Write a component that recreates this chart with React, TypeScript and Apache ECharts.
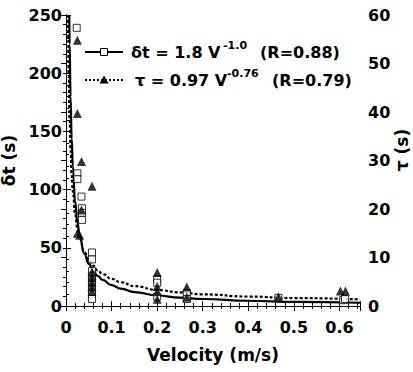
import React, { useEffect, useRef } from "react";
import * as echarts from "echarts";

// Measured data: delta t (s) versus velocity (m/s)
const sqV = [0.0235, 0.025, 0.025, 0.034, 0.035, 0.035, 0.035, 0.057, 0.057, 0.057, 0.057, 0.057, 0.057, 0.057, 0.057, 0.057, 0.2, 0.2, 0.2, 0.265, 0.265, 0.466, 0.608, 0.612];
const sqDt = [239, 114, 109, 94, 84, 80, 74, 46, 40, 30, 26, 22, 18, 14, 10, 6, 23, 20, 8, 11, 6, 7, 5, 6];

// Measured data: tau (s) versus velocity (m/s)
const triV = [0.025, 0.025, 0.034, 0.057, 0.034, 0.025, 0.03, 0.057, 0.057, 0.057, 0.057, 0.057, 0.2, 0.2, 0.2, 0.2, 0.265, 0.265, 0.466, 0.602, 0.613];
const triTau = [54.8, 39.7, 29.8, 24.7, 19.8, 15, 14.6, 7, 6, 5, 4, 3, 6.9, 4, 3, 1.4, 3.9, 1.8, 1.9, 3.1, 3.1];

// Fit curve: delta t
const fitDtV = [0.0072, 0.008, 0.01, 0.0125, 0.015, 0.02, 0.025, 0.03, 0.04, 0.05, 0.06, 0.07, 0.08, 0.1, 0.12, 0.15, 0.2, 0.25, 0.3, 0.4, 0.5, 0.645];
const fitDt = [250, 225, 180, 144, 120, 90, 72, 60, 45, 36, 30, 25.7, 22.5, 18, 15, 12, 9, 7.2, 6, 4.5, 3.6, 2.8];

// Fit curve: tau
const fitTauV = [0.0045, 0.005, 0.006, 0.008, 0.01, 0.0125, 0.015, 0.02, 0.025, 0.03, 0.04, 0.05, 0.06, 0.07, 0.08, 0.1, 0.12, 0.15, 0.2, 0.25, 0.3, 0.4, 0.5, 0.645];
const fitTau = [60, 55, 47.4, 38, 32.1, 27, 23.6, 19, 16, 13.9, 11.2, 9.5, 8.3, 7.3, 6.6, 5.6, 4.9, 4.1, 3.3, 2.8, 2.4, 1.95, 1.64, 1.35];

const leftTicks = [0, 50, 100, 150, 200, 250];
const rightTicks = [0, 10, 20, 30, 40, 50, 60];

const FONT = "DejaVu Sans";

export default function App() {
  const ref = useRef<HTMLDivElement>(null);
  useEffect(() => {
    if (!ref.current) return;
    const chart = echarts.init(ref.current, null, { renderer: "svg" });
    const zip = (a: number[], b: number[]) => a.map((v, i) => [v, b[i]]);
    const labelStyle = { color: "#000", fontFamily: FONT, fontWeight: "bold" as const, fontSize: 16 };
    const nameStyle = { color: "#000", fontFamily: FONT, fontWeight: "bold" as const, fontSize: 17 };
    const tickStyle = {
      axisLine: { show: true, lineStyle: { color: "#000", width: 1 } },
      axisTick: { show: true, inside: true, length: 5, lineStyle: { color: "#000" } },
      minorTick: { show: true, splitNumber: 5, length: 3, lineStyle: { color: "#000" } },
      splitLine: { show: false },
      minorSplitLine: { show: false },
    };
    chart.setOption({
      animation: false,
      backgroundColor: "#fff",
      grid: { left: 66, right: 53, top: 15, bottom: 66, containLabel: false, outerBoundsMode: "none" },
      xAxis: [
        {
          type: "value",
          min: 0,
          max: 0.645,
          interval: 0.1,
          position: "bottom",
          ...tickStyle,
          axisLabel: { ...labelStyle, margin: 13, formatter: (v: number) => (v === 0 ? "0" : v.toFixed(1)) },
          name: "Velocity (m/s)",
          nameLocation: "middle",
          nameGap: 40,
          nameTextStyle: nameStyle,
        },
        {
          type: "value",
          min: 0,
          max: 0.645,
          interval: 0.1,
          position: "top",
          ...tickStyle,
          axisLabel: { show: false },
        },
      ],
      yAxis: [
        {
          type: "value",
          min: leftTicks[0],
          max: leftTicks[leftTicks.length - 1],
          interval: 50,
          position: "left",
          ...tickStyle,
          axisLabel: { ...labelStyle, margin: 4 },
          name: "δt (s)",
          nameLocation: "middle",
          nameRotate: 90,
          nameGap: 37,
          nameTextStyle: nameStyle,
        },
        {
          type: "value",
          min: rightTicks[0],
          max: rightTicks[rightTicks.length - 1],
          interval: 10,
          position: "right",
          ...tickStyle,
          axisLabel: { ...labelStyle, margin: 8 },
        },
      ],
      series: [
        {
          type: "line",
          xAxisIndex: 0,
          yAxisIndex: 0,
          data: zip(fitDtV, fitDt),
          showSymbol: false,
          smooth: true,
          smoothMonotone: "x",
          lineStyle: { color: "#000", width: 2.2 },
          z: 3,
        },
        {
          type: "line",
          xAxisIndex: 0,
          yAxisIndex: 1,
          data: zip(fitTauV, fitTau),
          showSymbol: false,
          smooth: true,
          smoothMonotone: "x",
          lineStyle: { color: "#000", width: 2.2, type: [3, 2] },
          z: 3,
        },
        {
          type: "scatter",
          xAxisIndex: 0,
          yAxisIndex: 0,
          data: zip(sqV, sqDt),
          symbol: "rect",
          symbolSize: 7,
          itemStyle: { color: "#fff", borderColor: "#000", borderWidth: 1 },
          z: 4,
        },
        {
          type: "scatter",
          xAxisIndex: 0,
          yAxisIndex: 1,
          data: zip(triV, triTau),
          symbol: "triangle",
          symbolSize: 9,
          itemStyle: { color: "#000" },
          z: 5,
        },
      ],
      graphic: [
        { type: "line", shape: { x1: 85, y1: 52, x2: 123, y2: 52 }, style: { stroke: "#000", lineWidth: 2 } },
        { type: "rect", shape: { x: 100.5, y: 48.5, width: 7, height: 7 }, style: { fill: "#fff", stroke: "#000", lineWidth: 1 } },
        { type: "line", shape: { x1: 85, y1: 80, x2: 123, y2: 80 }, style: { stroke: "#000", lineWidth: 2, lineDash: [2, 2] } },
        { type: "polygon", shape: { points: [[99.5, 83.5], [108.5, 83.5], [104, 75.5]] }, style: { fill: "#000" } },
        { type: "text", x: 131, y: 52, style: { text: "δt = 1.8 V", fill: "#000", font: `bold 16px "${FONT}"`, verticalAlign: "middle" } },
        { type: "text", x: 223, y: 45, style: { text: "-1.0", fill: "#000", font: `bold 11px "${FONT}"`, verticalAlign: "middle" } },
        { type: "text", x: 260, y: 52, style: { text: "(R=0.88)", fill: "#000", font: `bold 16px "${FONT}"`, verticalAlign: "middle" } },
        { type: "text", x: 135, y: 80, style: { text: "τ = 0.97 V", fill: "#000", font: `bold 16px "${FONT}"`, verticalAlign: "middle" } },
        { type: "text", x: 227, y: 73, style: { text: "-0.76", fill: "#000", font: `bold 11px "${FONT}"`, verticalAlign: "middle" } },
        { type: "text", x: 272, y: 80, style: { text: "(R=0.79)", fill: "#000", font: `bold 16px "${FONT}"`, verticalAlign: "middle" } },
        {
          type: "text",
          x: 402,
          y: 150,
          rotation: Math.PI / 2,
          style: { text: "τ (s)", fill: "#000", font: `bold 17px "${FONT}"`, align: "center", verticalAlign: "middle" },
        },
      ],
    });
    return () => chart.dispose();
  }, []);
  return <div ref={ref} style={{ position: "fixed", left: 0, top: 0, width: 413, height: 372 }} />;
}
